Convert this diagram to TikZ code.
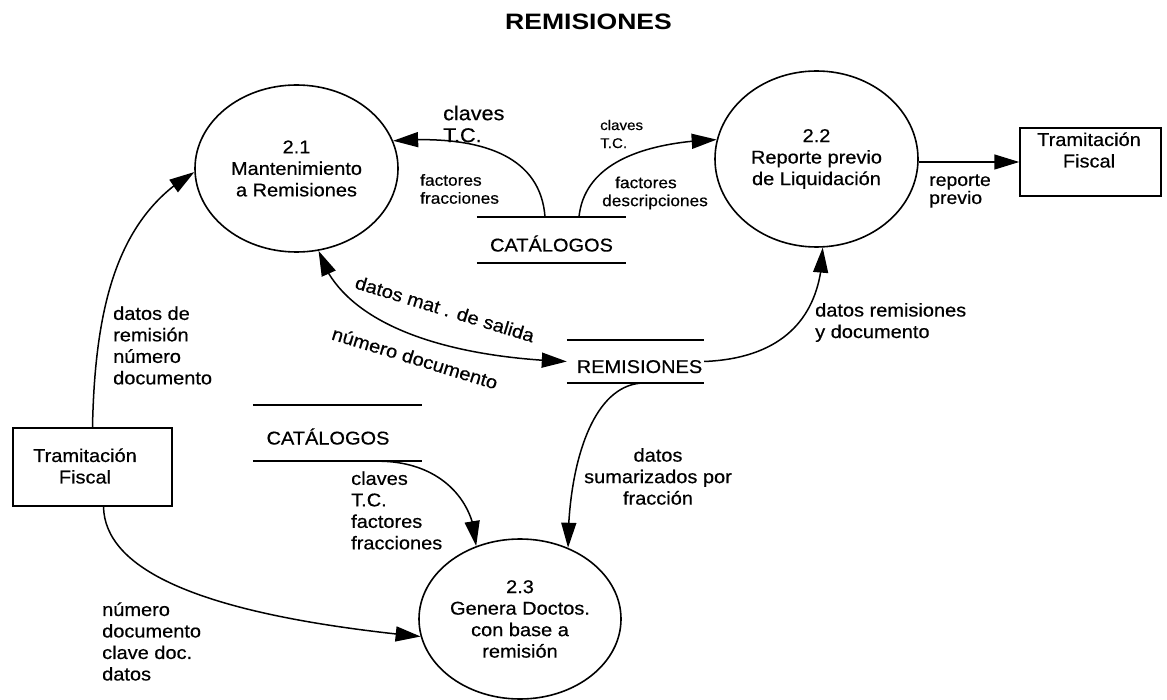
\documentclass[tikz,border=0pt]{standalone}
\usepackage{fontspec}
\setmainfont{Liberation Sans}[FakeStretch=1.08,FakeBold=0.5]
\newfontfamily\dfdtitlefont{Liberation Sans}[FakeStretch=1.19]
\usetikzlibrary{shapes.geometric,arrows.meta,calc,bending}
\newcommand\dfdmain{\fontsize{18.5}{21.5}\selectfont}
\begin{document}
\begin{tikzpicture}[x=1pt,y=-1pt,
  proc/.style={ellipse, draw, line width=1.6pt, inner sep=0pt, align=center, font=\dfdmain},
  ext/.style={rectangle, draw, line width=1.5pt, inner sep=0pt},
  txt/.style={inner sep=0pt, align=center, font=\dfdmain},
  store/.style={inner sep=0pt, text height=23pt, text depth=0pt, font=\dfdmain},
  storeline/.style={line width=1.7pt},
  flow/.style={line width=1.5pt, -{Triangle[length=25pt,width=15pt]}},
  flowboth/.style={line width=1.5pt, {Triangle[length=25pt,width=15pt]}-{Triangle[length=25pt,width=15pt]}},
  lbl/.style={inner sep=0pt, anchor=west, align=left, font=\dfdmain},
  rlbl/.style={inner sep=0pt, font=\dfdmain, rotate=-17}
]
\useasboundingbox (0,0) rectangle (1167,700);

% title
\node[inner sep=0pt, font=\dfdtitlefont\bfseries\fontsize{22.3}{26}\selectfont] (title) at (588.5,22) {REMISIONES};

% processes
\node[proc, minimum width=203pt, minimum height=167pt] (P21) at (296.5,168.5) {2.1\\Mantenimiento\\a Remisiones};
\node[proc, minimum width=203pt, minimum height=176pt] (P22) at (816.5,159) {2.2\\Reporte previo\\de Liquidación};
\node[proc, minimum width=202pt, minimum height=160pt] (P23) at (520,619) {2.3\\Genera Doctos.\\con base a\\remisión};

% external entities
\node[ext, minimum width=141pt, minimum height=68pt] (T1) at (1090.5,162) {};
\node[txt] (T1t) at (1089,150) {Tramitación\\Fiscal};
\node[ext, minimum width=159pt, minimum height=78pt] (T2) at (92.5,467) {};
\node[txt] (T2t) at (85,466) {Tramitación\\Fiscal};

% data stores
\node[store, minimum width=149pt, minimum height=46pt] (C1) at (551.5,240) {CATÁLOGOS};
\draw[storeline] (C1.north west) -- (C1.north east) (C1.south west) -- (C1.south east);
\node[store, minimum width=137pt, minimum height=43pt] (R1) at (635.5,361.5) {\hspace*{8pt}REMISIONES};
\draw[storeline] (R1.north west) -- (R1.north east) (R1.south west) -- (R1.south east);
\node[store, minimum width=169pt, minimum height=56pt] (C2) at (337.5,433) {CATÁLOGOS\hspace*{19pt}};
\draw[storeline] (C2.north west) -- (C2.north east) (C2.south west) -- (C2.south east);

% flows
\draw[flow] ($(C1.north)+(-6.5,0)$) .. controls (540,150) and (470,135) .. (P21.16);
\draw[flow] ($(C1.north)+(27.5,0)$) .. controls (585,160) and (650,142) .. (P22.169);
\draw[flow] (T1.west -| P22.east) -- (T1.west);
\draw[flowboth] (P21.-75) .. controls (340,322) and (440,357) .. (R1.west);
\draw[flow] (R1.east) .. controls (790,358) and (822,310) .. (P22.-86);
\draw[flow] ($(R1.south)+(4.5,0)$) .. controls (590,388) and (568,470) .. (P23.56);
\draw[flow] ($(C2.south)+(42.5,0)$) .. controls (440,462) and (475,500) .. (P23.121);
\draw[flow] (T2.north) .. controls (95,300) and (120,215) .. (P21.182);
\draw[flow] ($(T2.south)+(11,0)$) .. controls (105,570) and (200,615) .. (P23.190);

% labels
\node[lbl, font=\fontsize{20}{22}\selectfont] (L1) at (443,124) {claves\\T.C.};
\node[lbl, font=\fontsize{14}{18}\selectfont] (L2) at (600,134) {claves\\T.C.};
\node[lbl, font=\fontsize{16}{18}\selectfont] (L3) at (420,189) {factores\\fracciones};
\node[lbl, font=\fontsize{16}{18}\selectfont] (L4) at (602,193) {\hspace*{13pt}factores\\descripciones};
\node[lbl, font=\fontsize{18}{18}\selectfont] (L5) at (929,191) {reporte\\previo};
\node[lbl] (L6) at (113,345.5) {datos de\\remisión\\número\\documento};
\node[lbl] (L7) at (102,641.5) {número\\documento\\clave doc.\\datos};
\node[lbl] (L8) at (351,510.5) {claves\\T.C.\\factores\\fracciones};
\node[lbl, anchor=center, align=center] (L9) at (658,476.5) {datos\\sumarizados por\\fracción};
\node[lbl] (L10) at (815,322.5) {datos remisiones\\y documento};
\node[rlbl] (L11) at (445,309) {datos mat . de salida};
\node[rlbl] (L12) at (415,358) {número documento};
\end{tikzpicture}
\end{document}
